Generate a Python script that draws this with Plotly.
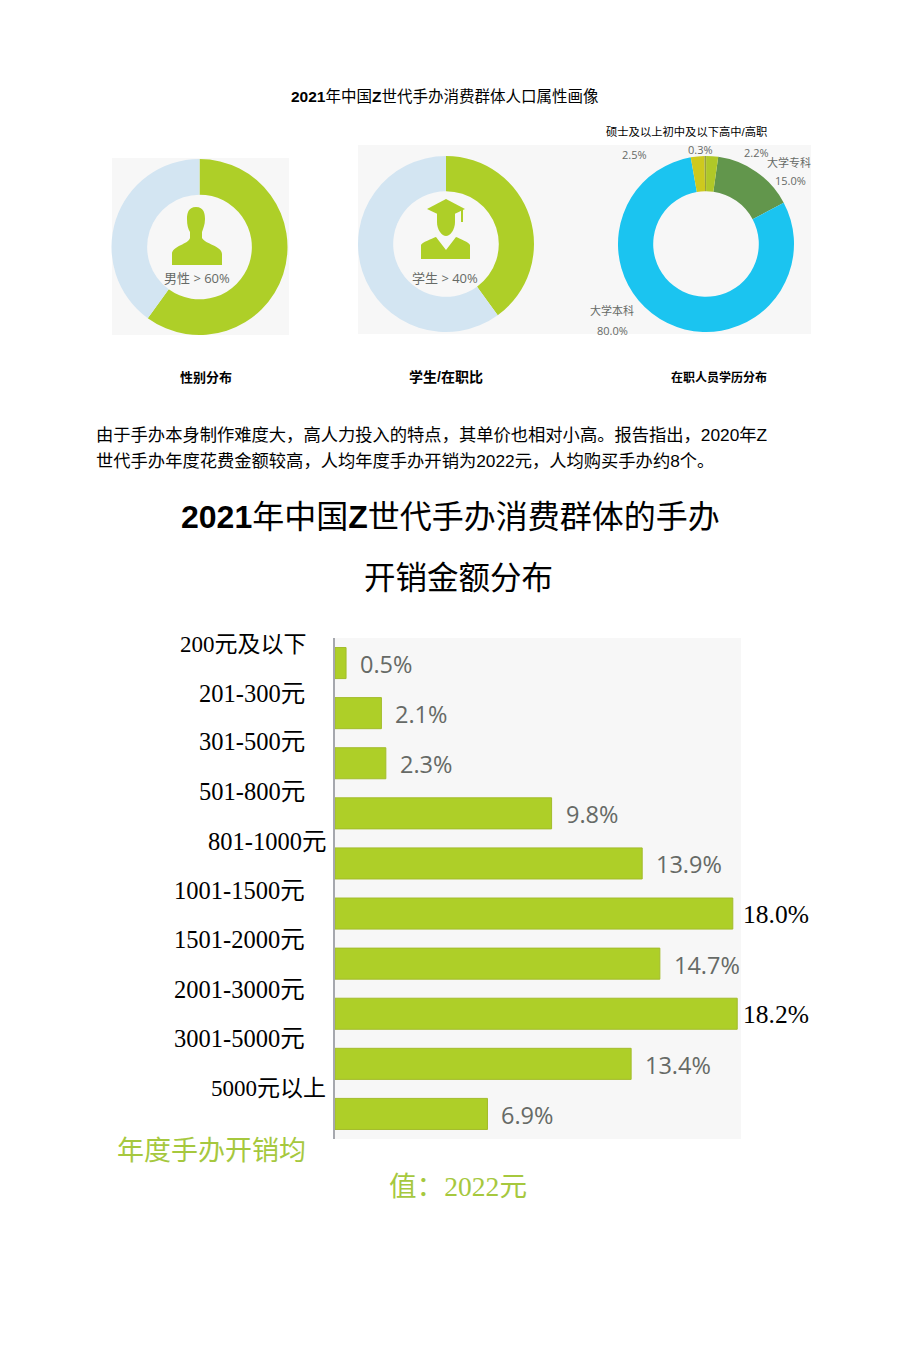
import re
import plotly.graph_objects as go

W, H = 920, 1360

# ---- data ----
gender_labels = ["男性", "女性"]
gender_values = [60, 40]
student_labels = ["学生", "在职"]
student_values = [40, 60]
edu_labels = ["大学专科", "大学本科", "硕士及以上", "初中及以下", "高中/高职"]
edu_values = [15.0, 80.0, 2.5, 0.3, 2.2]
spend_categories = ["200元及以下", "201-300元", "301-500元", "501-800元", "801-1000元",
                    "1001-1500元", "1501-2000元", "2001-3000元", "3001-5000元", "5000元以上"]
spend_values = [0.5, 2.1, 2.3, 9.8, 13.9, 18.0, 14.7, 18.2, 13.4, 6.9]

# ---- styles ----
GREEN = "#AECF28"
PALE = "#D3E5F2"
PANEL = "#F7F7F7"
GREY = "#666A66"
CJK = "Noto Sans CJK SC"
SANS = f"Liberation Sans, {CJK}"
SERIF = f"Liberation Serif, {CJK}"
OPEN = f"Open Sans, {CJK}"


def px(x):
    return x / W


def py(y):
    return 1 - y / H


def path(s):
    """Convert an icon outline drawn in page pixels to paper coordinates."""
    n = [0]

    def conv(m):
        v = float(m.group(0))
        n[0] += 1
        return f"{px(v):.5f}" if n[0] % 2 else f"{py(v):.5f}"

    return re.sub(r"\d+(\.\d+)?", conv, s)


def dom(cx, cy, r):
    return dict(x=[px(cx - r), px(cx + r)], y=[py(cy + r), py(cy - r)])


fig = go.Figure()

fig.add_trace(go.Pie(values=gender_values, labels=gender_labels, sort=False, direction="clockwise",
                     rotation=0, hole=0.595, textinfo="none", domain=dom(199.5, 247, 88),
                     marker=dict(colors=[GREEN, PALE], line=dict(width=0)), showlegend=False))
fig.add_trace(go.Pie(values=student_values, labels=student_labels, sort=False, direction="clockwise",
                     rotation=0, hole=0.6, textinfo="none", domain=dom(446, 244, 88),
                     marker=dict(colors=[GREEN, PALE], line=dict(width=0)), showlegend=False))
fig.add_trace(go.Pie(values=edu_values, labels=edu_labels, sort=False, direction="clockwise",
                     rotation=8, hole=0.6, textinfo="none", domain=dom(706, 244, 88),
                     marker=dict(colors=["#62964C", "#1BC4F0", "#CEC91D", "#98A03C", "#B0C828"],
                                 line=dict(width=0)), showlegend=False))

fig.add_trace(go.Bar(y=spend_categories, x=spend_values, orientation="h",
                     marker=dict(color=GREEN, line=dict(color="#A3BC2C", width=1)),
                     showlegend=False))

fig.update_layout(
    width=W, height=H, autosize=False, margin=dict(l=0, r=0, t=0, b=0),
    paper_bgcolor="white", plot_bgcolor=PANEL, bargap=0.38,
    xaxis=dict(domain=[px(335), px(741)], range=[0, 406 / 22.1], visible=False),
    yaxis=dict(domain=[py(1139), py(638)], autorange="reversed", showticklabels=False,
               ticks="", showgrid=False, zeroline=False, showline=True,
               linecolor="#A6A8AE", linewidth=2, categoryorder="array",
               categoryarray=spend_categories),
)

# ---- photo backgrounds and icons ----
shapes = [
    dict(type="rect", xref="paper", yref="paper", layer="below", line_width=0, fillcolor=PANEL,
         x0=px(112), x1=px(289), y0=py(335), y1=py(158)),
    dict(type="rect", xref="paper", yref="paper", layer="below", line_width=0, fillcolor=PANEL,
         x0=px(358), x1=px(811), y0=py(334), y1=py(145)),
]
icons = [
    "M196 207 C204 207 205 214 205 219 C205 225 203 229 202 232 L202 238 C205 244 222 246 222 254 "
    "L222 265 L172 265 L172 254 C172 246 189 244 190 238 L190 232 C188 229 187 225 187 219 "
    "C187 214 188 207 196 207 Z",
    "M446 199 L465 209 L446 218 L427 209 Z",
    "M461 210 L463 210 L463 222 L461 222 Z",
    "M437 212 L455 212 L455 222 C455 230 450 236 446 236 C442 236 437 230 437 222 Z",
    "M421 259 L421 245 C421 243 433 238 436 237 L446 250 L456 237 C459 238 470 243 470 245 L470 259 Z",
]
for p in icons:
    shapes.append(dict(type="path", xref="paper", yref="paper", path=path(p),
                       fillcolor=GREEN, line_width=0))
fig.update_layout(shapes=shapes)


# ---- text ----
def note(x, y, text, size, family=SANS, color="black", anchor="center"):
    fig.add_annotation(xref="paper", yref="paper", x=px(x), y=py(y), text=text, showarrow=False,
                       xanchor=anchor, yanchor="middle", align=anchor,
                       font=dict(size=size, family=family, color=color))


note(445, 97, "<b>2021</b>年中国<b>Z</b>世代手办消费群体人口属性画像", 15.5)
note(686.5, 131, "硕士及以上初中及以下高中/高职", 11.3)
note(205.5, 377, "<b>性别分布</b>", 13)
note(446, 377, "<b>学生/在职比</b>", 14)
note(719, 377, "<b>在职人员学历分布</b>", 12)

note(197, 278, f"{gender_labels[0]} > {gender_values[0]}%", 13, OPEN, GREY)
note(445, 278, f"{student_labels[0]} > {student_values[0]}%", 13, OPEN, GREY)

note(634, 154, f"{edu_values[2]}%", 11, OPEN, GREY)
note(700, 149, f"{edu_values[3]}%", 11, OPEN, GREY)
note(756, 152, f"{edu_values[4]}%", 11, OPEN, GREY)
note(789, 162, edu_labels[0], 11, OPEN, GREY)
note(790, 181, f"{edu_values[0]:.1f}%", 11, OPEN, GREY)
note(612, 311, edu_labels[1], 11, OPEN, GREY)
note(612, 330, f"{edu_values[1]:.1f}%", 11, OPEN, GREY)

note(94, 435, "由于手办本身制作难度大，高人力投入的特点，其单价也相对小高。报告指出，2020年Z", 17.3, anchor="left")
note(94, 461, "世代手办年度花费金额较高，人均年度手办开销为2022元，人均购买手办约8个。", 17.3, anchor="left")

note(450, 517, "<b>2021</b>年中国<b>Z</b>世代手办消费群体的手办", 32)
note(458, 578, "开销金额分布", 31.5)

label_right = [309, 307, 307, 307, 328, 307, 307, 307, 307, 328]
label_size = [23, 24.5, 24.5, 24.5, 24.5, 24.5, 24.5, 24.5, 24.5, 23]
label_y = [644, 693, 742, 791, 841, 890, 939, 989, 1038, 1088]
for cat, xr, yy, sz in zip(spend_categories, label_right, label_y, label_size):
    note(xr, yy, cat, sz, SERIF, "black", "right")

note(211, 1151, "年度手办开销均", 27, SERIF, "#A6C83E")
note(458, 1186, "值：2022元", 27.6, SERIF, "#A6C83E")

# ---- bar value labels ----
serif_shift = {18.0: 8, 18.2: 4}
for cat, v in zip(spend_categories, spend_values):
    is_serif = v in serif_shift
    fig.add_annotation(xref="x", yref="y", x=v, y=cat, text=f"{v:.1f}%", showarrow=False,
                       xanchor="left", yanchor="middle", xshift=serif_shift.get(v, 12),
                       yshift=-1,
                       font=dict(size=25.5 if is_serif else 23.5,
                                 family="Liberation Serif" if is_serif else "Open Sans",
                                 color="black" if is_serif else GREY))

fig.write_html("out.html", config={"displayModeBar": False},
               post_script="document.body.style.margin='0';")
